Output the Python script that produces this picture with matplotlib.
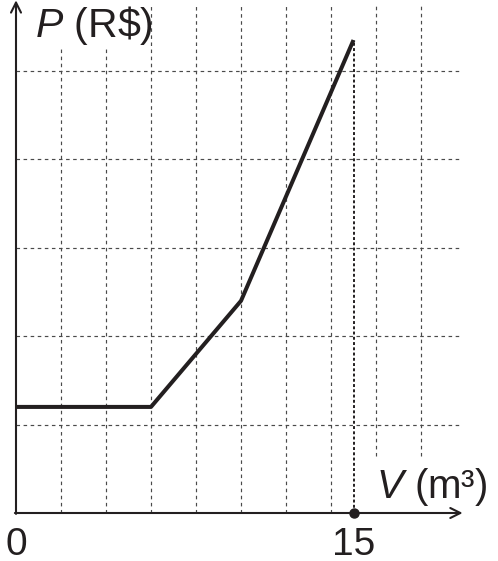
import matplotlib.pyplot as plt

plt.rcParams['font.family'] = ['Liberation Sans', 'DejaVu Sans']
plt.rcParams['mathtext.fontset'] = 'custom'
plt.rcParams['mathtext.rm'] = 'Liberation Sans'
plt.rcParams['mathtext.it'] = 'Liberation Sans:italic'

# price curve
volume = [0, 6, 10, 15]
price = [12, 12, 24, 53.5]

grid_v = [2, 4, 6, 8, 10, 12, 14, 16, 18]
grid_p = [10, 20, 30, 40, 50]
x_labels = ['0', '15']
x_label_pos = [0, 15]
v_mark = 15

ink = '#231f20'
grid_col = '#4a4a4a'

fig = plt.figure(figsize=(4.98, 5.61), dpi=100)
ax = fig.add_axes([0, 0, 1, 1])
ax.set_xlim(-16 / 22.5, 482 / 22.5)
ax.set_ylim(-48 / 8.84, 513 / 8.84)
ax.axis('off')

x_end = 19.75
y_end = 57.7

# dashed grid, cut where the axis titles sit
for v in grid_v:
    top = y_end
    bottom = 0
    if v < 6:
        top = 52.5
    if v > 15:
        bottom = 6.4
    ax.plot([v, v], [bottom, top], color=grid_col, lw=0.85, ls=(0, (3, 3)), zorder=1)
for p in grid_p:
    ax.plot([0, x_end], [p, p], color=grid_col, lw=0.85, ls=(0, (3, 3)), zorder=1)

# axes with arrows
ax.annotate('', xy=(0, y_end + 0.3), xytext=(0, -0.1),
            arrowprops=dict(arrowstyle='->', lw=1.5, color=ink, mutation_scale=18,
                            shrinkA=0, shrinkB=0), zorder=3)
ax.annotate('', xy=(x_end + 0.1, 0), xytext=(-0.05, 0),
            arrowprops=dict(arrowstyle='->', lw=1.5, color=ink, mutation_scale=18,
                            shrinkA=0, shrinkB=0), zorder=3)

# the price curve
ax.plot(volume, price, color=ink, lw=2.9, solid_capstyle='butt', zorder=4)

# dotted marker at V = 15
ax.plot([v_mark, v_mark], [0, price[-1]], color=ink, lw=1.4, ls=(0, (1.5, 1.2)), zorder=3)
ax.plot([v_mark], [0], 'o', color=ink, ms=6.5, zorder=5)

ax.text(0.84, 53.85, r'$P$ (R\$)', fontsize=29.5, color=ink, ha='left', va='baseline')
ax.text(16.0, 1.7, r'$V$ (m³)', fontsize=29, color=ink, ha='left', va='baseline')
for pos, lab in zip(x_label_pos, x_labels):
    ax.text(pos, -4.7, lab, fontsize=28, color=ink, ha='center', va='baseline')

fig.savefig('out.png', dpi=100)
